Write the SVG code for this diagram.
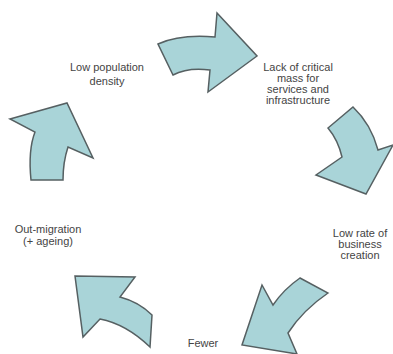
<svg xmlns="http://www.w3.org/2000/svg" width="393" height="354" viewBox="0 0 393 354">
<style>
.arrow{fill:#a9d4d8;stroke:#566062;stroke-width:1.5;stroke-linejoin:miter}
.lbl{font-family:"Liberation Sans",Arial,sans-serif;font-size:11px;fill:#444444;text-anchor:middle}
</style>
<rect width="393" height="354" fill="#ffffff"/>
<g id="connectors">
<path id="arrow-top" class="arrow" d="M158,44 Q180,34 215,37 L217,13 L257,56 L208,92 L210,70 Q188,67 173,75 Z"/>
<path id="arrow-right" class="arrow" d="M328,128 L353,107 Q371,124 378,150 L393,145 L366,194 L316,175 L342,157 Q338,140 328,128 Z"/>
<path id="arrow-bottom-right" class="arrow" d="M300,278 L328,293 Q303,310 288,333 L297,354 L242,345 L262,285 L273,305 Q284,289 300,278 Z"/>
<path id="arrow-bottom-left" class="arrow" d="M75,276 L135,277 L120,297 Q139,302 152,315 L150,347 Q126,324 100,319 L83,337 Z"/>
<path id="arrow-left" class="arrow" d="M10,119 L67,103 L93,158 L68,147 Q63,162 63,180 L31,180 Q28,150 35,132 Z"/>
</g>
<g id="node-density">
<text class="lbl" x="107" y="71">Low population</text>
<text class="lbl" x="107" y="85">density</text>
</g>
<g id="node-critical-mass">
<text class="lbl" x="298" y="71">Lack of critical</text>
<text class="lbl" x="298" y="82">mass for</text>
<text class="lbl" x="298" y="93">services and</text>
<text class="lbl" x="298" y="104">infrastructure</text>
</g>
<g id="node-business">
<text class="lbl" x="360" y="237">Low rate of</text>
<text class="lbl" x="360" y="248">business</text>
<text class="lbl" x="360" y="259">creation</text>
</g>
<g id="node-jobs">
<text class="lbl" x="203" y="347">Fewer</text>
</g>
<g id="node-outmigration">
<text class="lbl" x="48" y="233">Out-migration</text>
<text class="lbl" x="48" y="245">(+ ageing)</text>
</g>
</svg>
